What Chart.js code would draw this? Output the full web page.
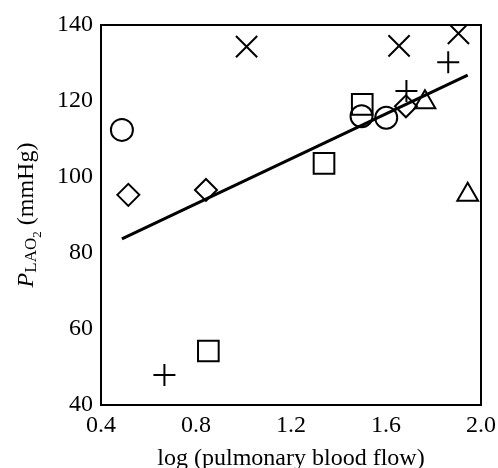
<!DOCTYPE html>
<html>
<head>
<meta charset="utf-8">
<script src="https://cdn.jsdelivr.net/npm/chart.js@4"></script>
<style>
  html, body { margin: 0; padding: 0; background: #fff; }
  #wrap { width: 498px; height: 468px; }
</style>
</head>
<body>
<div id="wrap"><canvas id="pfChart"></canvas></div>
<script>
// values
const crossX = [1.013, 1.655, 1.905];
const crossY = [134.3, 134.5, 137.8];
const plusX = [0.667, 1.686, 1.862];
const plusY = [47.9, 122.6, 130.2];
const squareX = [0.852, 1.339, 1.500];
const squareY = [54.2, 103.6, 119.1];
const circleX = [0.488, 1.497, 1.601];
const circleY = [112.4, 116.0, 115.6];
const diamondX = [0.515, 0.842, 1.684];
const diamondY = [95.3, 96.6, 118.6];
const triangleX = [1.764, 1.944];
const triangleY = [119.7, 95.3];
const fitX = [0.488, 1.944];
const fitY = [83.7, 126.8];

const xTicks = [0.4, 0.8, 1.2, 1.6, 2.0];
const yTicks = [40, 60, 80, 100, 120, 140];

const serif = "'Liberation Serif', 'DejaVu Serif', serif";

function pts(xs, ys) {
  return xs.map((x, i) => ({ x: x, y: ys[i] }));
}

function markerSet(xs, ys, style, r) {
  return {
    data: pts(xs, ys),
    pointStyle: style,
    pointRadius: r,
    borderColor: '#000',
    backgroundColor: 'rgba(0,0,0,0)',
    borderWidth: 2,
    showLine: false
  };
}

// box around plot + y title with subscripts
const framePlugin = {
  id: 'frame',
  afterDatasetsDraw(chart) {
    const { ctx, chartArea: a } = chart;
    ctx.save();
    ctx.strokeStyle = '#000';
    ctx.lineWidth = 2;
    ctx.strokeRect(a.left, a.top, a.right - a.left, a.bottom - a.top);
    ctx.restore();
  },
  afterDraw(chart) {
    const { ctx, chartArea: a } = chart;
    const parts = [
      { t: 'P', f: 'italic 24px ' + serif, dy: 0 },
      { t: 'LAO', f: '17px ' + serif, dy: 3 },
      { t: '2', f: '13px ' + serif, dy: 8 },
      { t: ' (mmHg)', f: '24px ' + serif, dy: 0 }
    ];
    ctx.save();
    let total = 0;
    parts.forEach(p => { ctx.font = p.f; p.w = ctx.measureText(p.t).width; total += p.w; });
    ctx.translate(33, (a.top + a.bottom) / 2);
    ctx.rotate(-Math.PI / 2);
    ctx.fillStyle = '#000';
    ctx.textBaseline = 'alphabetic';
    let x = -total / 2;
    parts.forEach(p => {
      ctx.font = p.f;
      ctx.fillText(p.t, x, p.dy);
      x += p.w;
    });
    ctx.restore();
  }
};

new Chart(document.getElementById('pfChart').getContext('2d'), {
  type: 'scatter',
  data: {
    datasets: [
      {
        data: pts(fitX, fitY),
        showLine: true,
        borderColor: '#000',
        borderWidth: 3,
        pointRadius: 0,
        fill: false
      },
      markerSet(crossX, crossY, 'crossRot', 15),
      markerSet(plusX, plusY, 'cross', 11),
      markerSet(squareX, squareY, 'rect', 14.6),
      markerSet(circleX, circleY, 'circle', 11),
      markerSet(diamondX, diamondY, 'rectRot', 11),
      markerSet(triangleX, triangleY, 'triangle', 12)
    ]
  },
  options: {
    responsive: true,
    maintainAspectRatio: false,
    animation: false,
    layout: { padding: { top: 25, right: 17, bottom: 0, left: 0 } },
    plugins: {
      legend: { display: false },
      tooltip: { enabled: false }
    },
    scales: {
      x: {
        type: 'linear',
        min: 0.4,
        max: 2.0,
        afterFit: s => { s.height = 63; s.paddingLeft = 0; s.paddingRight = 0; },
        afterBuildTicks: s => { s.ticks = xTicks.map(v => ({ value: v })); },
        grid: { display: false, drawTicks: false },
        border: { display: false },
        ticks: {
          padding: 6,
          color: '#000',
          font: { family: serif, size: 24 },
          callback: v => v.toFixed(1)
        },
        title: {
          display: true,
          text: 'log (pulmonary blood flow)',
          color: '#000',
          font: { family: serif, size: 24, lineHeight: 0.75 },
          padding: 0
        }
      },
      y: {
        type: 'linear',
        min: 40,
        max: 140,
        afterFit: s => { s.width = 101; },
        afterBuildTicks: s => { s.ticks = yTicks.map(v => ({ value: v })); },
        grid: { display: false, drawTicks: false },
        border: { display: false },
        ticks: {
          padding: 8,
          color: '#000',
          font: { family: serif, size: 24 }
        }
      }
    }
  },
  plugins: [framePlugin]
});
</script>
</body>
</html>
